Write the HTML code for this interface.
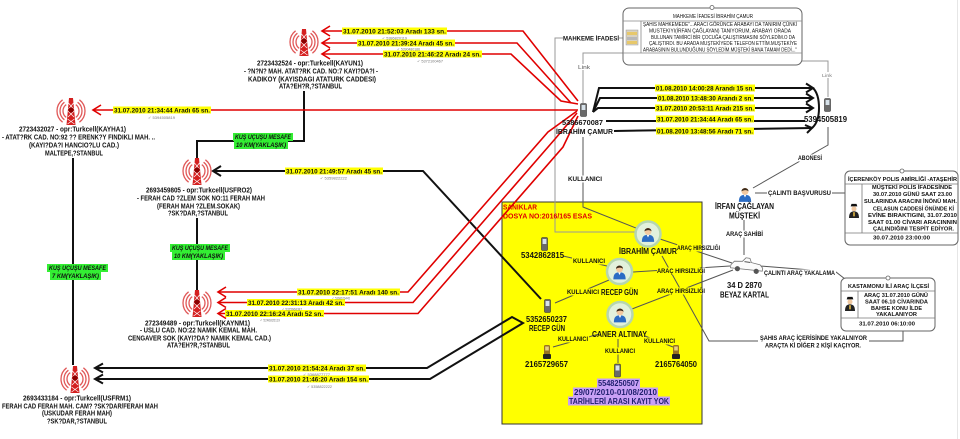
<!DOCTYPE html>
<html><head><meta charset="utf-8">
<style>
html,body{margin:0;padding:0;background:#fff;}
svg{display:block;}
text{font-family:"Liberation Sans","DejaVu Sans",sans-serif;font-weight:bold;fill:#111;}
.n{font-weight:normal;}
.sm{font-weight:normal;fill:#777;font-size:3.6px;}
.g{font-style:italic;font-size:6px;}
.lb{font-size:6px;}
.tw{font-size:7px;}
.dl{font-size:6.8px;}
</style></head><body>
<svg width="960" height="439" viewBox="0 0 960 439" xmlns="http://www.w3.org/2000/svg">
<defs>
<symbol id="tw" viewBox="0 0 32 29">
 <g fill="none" stroke="#e05858" stroke-width="1.3">
  <path d="M11.2,7.6 A8,8 0 0 0 11.2,20.4"/>
  <path d="M9.4,5.2 A11,11 0 0 0 9.4,22.8"/>
  <path d="M7.6,2.8 A14,14 0 0 0 7.6,25.2"/>
  <path d="M20.8,7.6 A8,8 0 0 1 20.8,20.4"/>
  <path d="M22.6,5.2 A11,11 0 0 1 22.6,22.8"/>
  <path d="M24.4,2.8 A14,14 0 0 1 24.4,25.2"/>
 </g>
 <path d="M14,1 L18,1 L20.5,28 L11.5,28 Z" fill="#d42020"/>
 <path d="M13.5,6 L18.5,12 M18.5,6 L13.5,12 M13,14 L19,20 M19,14 L13,20 M12.5,22 L19.5,27 M19.5,22 L12.5,27" stroke="#fff" stroke-width="0.7"/>
 <circle cx="16" cy="13" r="2.6" fill="#8a0000"/>
</symbol>
<symbol id="ps" viewBox="0 0 16 18">
 <path d="M1,18 C1,11 4,10 8,10 C12,10 15,11 15,18 Z" fill="#2b6cc4"/>
 <path d="M6.5,10 L8,13 L9.5,10Z" fill="#fff"/>
 <circle cx="8" cy="6" r="4" fill="#f3c9a0"/>
 <path d="M4,6 C4,1 12,1 12,6 C11,4 6,4 4,6Z" fill="#3b2a1a"/>
</symbol>
<symbol id="pol" viewBox="0 0 12 18">
 <path d="M2,4 L10,4 L9,1 L3,1Z" fill="#111"/>
 <circle cx="6" cy="7" r="3" fill="#f0c8a0"/>
 <path d="M0,18 C0,11 3,10 6,10 C9,10 12,11 12,18Z" fill="#222"/>
 <rect x="5" y="11" width="2" height="5" fill="#d8b040"/>
</symbol>
<symbol id="ph" viewBox="0 0 7 14">
 <rect x="0.5" y="0.5" width="6" height="13" rx="1.2" fill="#6a6a6a" stroke="#333" stroke-width="0.6"/>
 <rect x="1.6" y="2" width="3.8" height="5" fill="#d7e2ea"/>
</symbol>
<symbol id="dp" viewBox="0 0 8 14">
 <rect x="1" y="0" width="6" height="10" rx="1.5" fill="#9a7420"/>
 <rect x="2.2" y="1.5" width="3.6" height="4" fill="#e8d080"/>
 <rect x="0" y="9" width="8" height="5" rx="1" fill="#222"/>
</symbol>
<symbol id="car" viewBox="0 0 34 17">
 <path d="M1,11 L4,7 L12,6 L15,2 L19,2 L21,6 L30,7 L33,10 L33,13 L1,14 Z" fill="#fbfbfb" stroke="#777" stroke-width="0.8"/>
 <path d="M14,6 L20,6" stroke="#555" stroke-width="1"/>
 <circle cx="8" cy="14" r="2.6" fill="#555"/>
 <circle cx="27" cy="14" r="2.6" fill="#555"/>
</symbol>
</defs>

<rect x="0" y="0" width="960" height="439" fill="#fff"/>
<line x1="957.5" y1="0" x2="957.5" y2="439" stroke="#e6e6e6" stroke-width="1"/>

<!-- yellow box -->
<rect x="502" y="202" width="200" height="222" fill="#ffff00" stroke="#333" stroke-width="1"/>

<!-- gray / dark connectors -->
<g fill="none" stroke="#999" stroke-width="1">
 <path d="M623,38 H619 M563,38 H555 V232 H636"/>
 <path d="M623,53 H583 V103"/>
 <path d="M802,61 H828 V97"/>
</g>
<g fill="none" stroke="#555" stroke-width="1">
 <path d="M828,127 V145 L753,188"/>
 <path d="M755,193 H845"/>
 <path d="M744,220 V255"/>
 <path d="M760,266 L836,272 L845,279"/>
 <path d="M662,256 L709,341 H903 V331"/>
 <path d="M583,137 V207 L636,228"/>
 <path d="M563,256 L607,266"/>
 <path d="M609,280 L555,303"/>
 <path d="M599,334 L553,347"/>
 <path d="M645,336 L673,347"/>
 <path d="M618,339 V363"/>
 <path d="M660,239 L732,263"/>
 <path d="M633,272 L730,266"/>
 <path d="M632,309 L733,270"/>
</g>

<!-- black vertical connectors between towers -->
<g fill="none" stroke="#111" stroke-width="2">
 <path d="M304,91 V141 H197 V158"/>
 <path d="M197,218 V290"/>
 <path d="M73,158 V365"/>
</g>

<!-- yellow box title -->
<text x="503" y="209.5" font-size="7.5" textLength="34" lengthAdjust="spacingAndGlyphs" style="fill:#e00000">SANIKLAR</text>
<text x="503" y="218.5" font-size="7.5" textLength="89" lengthAdjust="spacingAndGlyphs" style="fill:#e00000">DOSYA NO:2016/165 ESAS</text>

<!-- black connectors -->
<g fill="none" stroke="#111" stroke-width="2">
 <path d="M213,171 H423 L541,299"/>
 <path d="M221,166 L213,171 L221,176"/>
 <path d="M95,368 H427 L512,317 L523,323 L430,379 H95"/>
 <path d="M103,363.5 L95,368 L103,372.5"/>
 <path d="M103,374.5 L95,379 L103,383.5"/>
 <path d="M593,112 L599,88 H813"/>
 <path d="M593,112 L600,98 H813"/>
 <path d="M593,112 L598,108 H813"/>
 <path d="M606,121 H805"/>
 <path d="M614,131 L812,128"/>
 <path d="M813,88 Q819,94 819,108 Q819,122 812,128"/>
 <path d="M806,83.5 L813,88 L806,92.5"/>
 <path d="M806,93.5 L813,98 L806,102.5"/>
 <path d="M806,103.5 L813,108 L806,112.5"/>
 <path d="M805,125 L812,128 L807,133"/>
</g>

<!-- red connectors -->
<g fill="none" stroke="#e00000" stroke-width="1.6">
 <path d="M322,31 H523 L578,101"/>
 <path d="M322,43 H517 L571,103"/>
 <path d="M322,54 H511 L561,101 L578,104"/>
 <path d="M330,26 L322,31 L330,36"/>
 <path d="M330,38 L322,43 L330,48"/>
 <path d="M330,49 L322,54 L330,59"/>
 <path d="M93,110 H578"/>
 <path d="M101,105 L93,110 L101,115"/>
 <path d="M218,292 H408 L548,132 L577,111"/>
 <path d="M218,302.5 H413 L555,139 L577,113"/>
 <path d="M218,313.5 H418 L563,147 L578,116"/>
 <path d="M226,287 L218,292 L226,297"/>
 <path d="M226,297.5 L218,302.5 L226,307.5"/>
 <path d="M226,308.5 L218,313.5 L226,318.5"/>
</g>

<!-- towers -->
<use href="#tw" x="288" y="28" width="32" height="29"/>
<use href="#tw" x="55" y="97" width="32" height="29"/>
<use href="#tw" x="181" y="157" width="32" height="29"/>
<use href="#tw" x="181" y="289" width="32" height="29"/>
<use href="#tw" x="59" y="365" width="32" height="29"/>

<!-- tower texts -->
<g class="tw">
<text x="257" y="65.5" textLength="106" lengthAdjust="spacingAndGlyphs">2723432524 - opr:Turkcell(KAYUN1)</text>
<text x="244" y="73.5" textLength="134" lengthAdjust="spacingAndGlyphs">- ?N?N? MAH.   ATAT?RK CAD. NO:7 KAYI?DA?I -</text>
<text x="248" y="81.5" textLength="128" lengthAdjust="spacingAndGlyphs">KADIKOY (KAYISDAGI ATATURK CADDESI)</text>
<text x="279" y="88.5" textLength="63" lengthAdjust="spacingAndGlyphs">ATA?EH?R,?STANBUL</text>

<text x="19" y="131.5" textLength="107" lengthAdjust="spacingAndGlyphs">2723432027 - opr:Turkcell(KAYHA1)</text>
<text x="2" y="139.5" textLength="153" lengthAdjust="spacingAndGlyphs">- ATAT?RK CAD. NO:92 ?? ERENK?Y FINDIKLI MAH. ..</text>
<text x="29" y="147.5" textLength="90" lengthAdjust="spacingAndGlyphs">(KAYI?DA?I HANCIO?LU CAD.)</text>
<text x="45" y="155.5" textLength="58" lengthAdjust="spacingAndGlyphs">MALTEPE,?STANBUL</text>

<text x="146" y="192.5" textLength="106" lengthAdjust="spacingAndGlyphs">2693459805 - opr:Turkcell(USFRO2)</text>
<text x="137" y="200.5" textLength="128" lengthAdjust="spacingAndGlyphs">- FERAH CAD ?ZLEM SOK NO:11 FERAH MAH</text>
<text x="157" y="208.5" textLength="83" lengthAdjust="spacingAndGlyphs">(FERAH MAH ?ZLEM.SOKAK)</text>
<text x="168" y="215.5" textLength="60" lengthAdjust="spacingAndGlyphs">?SK?DAR,?STANBUL</text>

<text x="145" y="325.5" textLength="105" lengthAdjust="spacingAndGlyphs">272349489 - opr:Turkcell(KAYNM1)</text>
<text x="140" y="332.5" textLength="117" lengthAdjust="spacingAndGlyphs">- USLU CAD. NO:22 NAMIK KEMAL MAH.</text>
<text x="128" y="340.5" textLength="143" lengthAdjust="spacingAndGlyphs">CENGAVER SOK (KAYI?DA? NAMIK KEMAL CAD.)</text>
<text x="167" y="347.5" textLength="63" lengthAdjust="spacingAndGlyphs">ATA?EH?R,?STANBUL</text>

<text x="23" y="400.5" textLength="108" lengthAdjust="spacingAndGlyphs">2693433184 - opr:Turkcell(USFRM1)</text>
<text x="2" y="408.5" textLength="156" lengthAdjust="spacingAndGlyphs">FERAH CAD FERAH MAH. CAM? ?SK?DAR/FERAH MAH</text>
<text x="42" y="415.5" textLength="70" lengthAdjust="spacingAndGlyphs">(USKUDAR FERAH MAH)</text>
<text x="47" y="423.5" textLength="60" lengthAdjust="spacingAndGlyphs">?SK?DAR,?STANBUL</text>
</g>

<!-- green distance labels -->
<g fill="#33ee33">
 <rect x="233" y="133" width="60" height="8"/><rect x="234" y="141" width="54" height="8"/>
 <rect x="170" y="244" width="60" height="8"/><rect x="172" y="252" width="53" height="8"/>
 <rect x="47" y="264" width="61" height="8"/><rect x="50" y="272" width="51" height="8"/>
</g>
<g class="g">
<text x="235" y="139.2" textLength="56" lengthAdjust="spacingAndGlyphs">KUŞ UÇUŞU MESAFE</text>
<text x="236" y="147.2" textLength="50" lengthAdjust="spacingAndGlyphs">10 KM(YAKLAŞIK)</text>
<text x="172" y="250.2" textLength="56" lengthAdjust="spacingAndGlyphs">KUŞ UÇUŞU MESAFE</text>
<text x="174" y="258.2" textLength="49" lengthAdjust="spacingAndGlyphs">10 KM(YAKLAŞIK)</text>
<text x="49" y="270.2" textLength="57" lengthAdjust="spacingAndGlyphs">KUŞ UÇUŞU MESAFE</text>
<text x="52" y="278.2" textLength="47" lengthAdjust="spacingAndGlyphs">7 KM(YAKLAŞIK)</text>
</g>

<!-- yellow date labels -->
<g fill="#ffff00">
 <rect x="342" y="27.5" width="105" height="7"/>
 <rect x="357" y="39.5" width="98" height="7"/>
 <rect x="383" y="50.5" width="99" height="7"/>
 <rect x="113" y="106.5" width="98" height="7"/>
 <rect x="285" y="167.5" width="98" height="7"/>
 <rect x="297" y="288.5" width="103" height="7"/>
 <rect x="247" y="299" width="98" height="7"/>
 <rect x="225" y="310" width="99" height="7"/>
 <rect x="268" y="364.5" width="98" height="7"/>
 <rect x="268" y="375.5" width="101" height="7"/>
 <rect x="655" y="84.5" width="100" height="7"/>
 <rect x="657" y="94.5" width="97" height="7"/>
 <rect x="655" y="104.5" width="100" height="7"/>
 <rect x="656" y="115.5" width="98" height="7"/>
 <rect x="656" y="127.5" width="98" height="7"/>
</g>
<g class="dl">
<text x="343" y="33.4" textLength="103" lengthAdjust="spacingAndGlyphs">31.07.2010 21:52:03 Aradı 133 sn.</text>
<text x="358" y="45.4" textLength="96" lengthAdjust="spacingAndGlyphs">31.07.2010 21:39:24 Aradı 45 sn.</text>
<text x="384" y="56.4" textLength="97" lengthAdjust="spacingAndGlyphs">31.07.2010 21:46:22 Aradı 24 sn.</text>
<text x="114" y="112.4" textLength="96" lengthAdjust="spacingAndGlyphs">31.07.2010 21:34:44 Aradı 65 sn.</text>
<text x="286" y="173.4" textLength="96" lengthAdjust="spacingAndGlyphs">31.07.2010 21:49:57 Aradı 45 sn.</text>
<text x="298" y="294.4" textLength="101" lengthAdjust="spacingAndGlyphs">31.07.2010 22:17:51 Aradı 140 sn.</text>
<text x="248" y="304.9" textLength="96" lengthAdjust="spacingAndGlyphs">31.07.2010 22:31:13 Aradı 42 sn.</text>
<text x="226" y="315.9" textLength="97" lengthAdjust="spacingAndGlyphs">31.07.2010 22:16:24 Aradı 52 sn.</text>
<text x="269" y="370.4" textLength="96" lengthAdjust="spacingAndGlyphs">31.07.2010 21:54:24 Aradı 37 sn.</text>
<text x="269" y="381.4" textLength="99" lengthAdjust="spacingAndGlyphs">31.07.2010 21:46:20 Aradı 154 sn.</text>
<text x="656" y="90.4" textLength="98" lengthAdjust="spacingAndGlyphs">01.08.2010 14:00:28 Arandı 15 sn.</text>
<text x="658" y="100.4" textLength="95" lengthAdjust="spacingAndGlyphs">01.08.2010 13:48:30 Arandı 2 sn.</text>
<text x="656" y="110.4" textLength="98" lengthAdjust="spacingAndGlyphs">31.07.2010 20:53:11 Aradı 215 sn.</text>
<text x="657" y="121.4" textLength="96" lengthAdjust="spacingAndGlyphs">31.07.2010 21:34:44 Aradı 65 sn.</text>
<text x="657" y="133.4" textLength="96" lengthAdjust="spacingAndGlyphs">01.08.2010 13:48:56 Aradı 71 sn.</text>
</g>

<!-- small check texts -->
<g>
<text class="sm" x="382" y="39.5" textLength="25" lengthAdjust="spacingAndGlyphs">✓ 5386820119</text>
<text class="sm" x="397" y="50.5" textLength="23" lengthAdjust="spacingAndGlyphs">✓ 5390480186</text>
<text class="sm" x="417" y="62.5" textLength="26" lengthAdjust="spacingAndGlyphs">✓ 5372100467</text>
<text class="sm" x="148" y="119" textLength="27" lengthAdjust="spacingAndGlyphs">✓ 5394505819</text>
<text class="sm" x="320" y="179.5" textLength="27" lengthAdjust="spacingAndGlyphs">✓ 5359822222</text>
<text class="sm" x="332" y="299.5" textLength="18" lengthAdjust="spacingAndGlyphs">✓ 5368676445</text>
<text class="sm" x="282" y="310.5" textLength="20" lengthAdjust="spacingAndGlyphs">✓ 5325668387</text>
<text class="sm" x="260" y="321.5" textLength="20" lengthAdjust="spacingAndGlyphs">✓ 5246835119</text>
<text class="sm" x="303" y="376" textLength="27" lengthAdjust="spacingAndGlyphs">✓ 5368877777</text>
<text class="sm" x="307" y="388" textLength="25" lengthAdjust="spacingAndGlyphs">✓ 5358822222</text>
</g>

<!-- top court statement box -->
<rect x="623" y="8" width="179" height="57" rx="6" fill="#fff" stroke="#666" stroke-width="1"/>
<line x1="623" y1="21" x2="802" y2="21" stroke="#888" stroke-width="0.8"/>
<line x1="623" y1="53" x2="802" y2="53" stroke="#888" stroke-width="0.8"/>
<line x1="641" y1="21" x2="641" y2="53" stroke="#888" stroke-width="0.8"/>
<circle cx="712" cy="7.5" r="2" fill="#fff" stroke="#666" stroke-width="0.8"/>
<g>
 <rect x="626" y="30" width="12" height="15" fill="#d9d2c0" stroke="#999" stroke-width="0.5"/>
 <rect x="627" y="32" width="10" height="3" fill="#e7c86a"/>
 <rect x="627" y="37" width="10" height="3" fill="#b8b8b8"/>
 <rect x="627" y="41" width="10" height="3" fill="#e7c86a"/>
</g>
<g class="n" style="font-size:5px">
<text class="n" x="673" y="17.8" textLength="80" lengthAdjust="spacingAndGlyphs">MAHKEME İFADESİ İBRAHİM ÇAMUR</text>
<text class="n" x="643" y="26.2" textLength="154" lengthAdjust="spacingAndGlyphs">ŞAHIS MAHKEMEDE&quot;...ARACI GÖRÜNCE ARABAYI DA TANIRIM ÇÜNKİ</text>
<text class="n" x="649" y="32.5" textLength="142" lengthAdjust="spacingAndGlyphs">MUSTEKIYI(İRFAN ÇAĞLAYAN) TANIYORUM, ARABAYI ORADA</text>
<text class="n" x="651" y="38.8" textLength="144" lengthAdjust="spacingAndGlyphs">BULUNAN TAMİRCİ BİR ÇOCUĞA ÇALIŞTIRMASINI SÖYLEDİM.O DA</text>
<text class="n" x="649" y="45.1" textLength="148" lengthAdjust="spacingAndGlyphs">ÇALIŞTIRDI. BU ARADA MUŞTEKİYEDE TELEFON ETTİM.MUŞTEKİYE</text>
<text class="n" x="643" y="51.4" textLength="154" lengthAdjust="spacingAndGlyphs">ARABASININ BULUNDUĞUNU SÖYLEDİM.MÜŞTEKİ BANA TAMAM DEDİ...&quot;</text>
</g>

<text x="563" y="40.5" font-size="6.8" textLength="56" lengthAdjust="spacingAndGlyphs">MAHKEME İFADESİ</text>
<rect x="577" y="64" width="13" height="6" fill="#fff"/>
<text class="n" x="578" y="69" font-size="5" textLength="12" lengthAdjust="spacingAndGlyphs" style="fill:#555">Link</text>
<rect x="821" y="72" width="12" height="6" fill="#fff"/>
<text class="n" x="822" y="77" font-size="4.5" textLength="10" lengthAdjust="spacingAndGlyphs" style="fill:#777">Link</text>

<!-- Ibrahim phone (top) -->
<use href="#ph" x="580" y="103" width="7" height="14"/>
<text x="562" y="125" font-size="7.5" textLength="41" lengthAdjust="spacingAndGlyphs">5386670087</text>
<text x="556" y="134" font-size="7.5" textLength="57" lengthAdjust="spacingAndGlyphs">İBRAHİM ÇAMUR</text>

<!-- 5394505819 -->
<use href="#ph" x="824" y="98" width="7" height="14"/>
<text x="804" y="122" font-size="8" textLength="43" lengthAdjust="spacingAndGlyphs">5394505819</text>

<!-- white-bg labels -->
<g fill="#fff">
 <rect x="567" y="175.5" width="36" height="7"/>
 <rect x="797" y="154.5" width="26" height="7"/>
 <rect x="767" y="189.5" width="65" height="7"/>
 <rect x="725" y="230.5" width="39" height="7"/>
 <rect x="763" y="269.5" width="73" height="7"/>
 <rect x="758" y="334" width="111" height="15"/>
</g>
<g class="lb">
<text x="568" y="181.2" textLength="34" lengthAdjust="spacingAndGlyphs">KULLANICI</text>
<text x="798" y="160.2" textLength="24" lengthAdjust="spacingAndGlyphs">ABONESİ</text>
<text x="768" y="195.2" textLength="63" lengthAdjust="spacingAndGlyphs">ÇALINTI BAŞVURUSU</text>
<text x="726" y="236.2" textLength="37" lengthAdjust="spacingAndGlyphs">ARAÇ SAHİBİ</text>
<text x="764" y="275.2" textLength="71" lengthAdjust="spacingAndGlyphs">ÇALINTI ARAÇ YAKALAMA</text>
<text x="760" y="340.2" textLength="107" lengthAdjust="spacingAndGlyphs">ŞAHIS ARAÇ İÇERİSİNDE YAKALNIYOR</text>
<text x="765" y="347.7" textLength="96" lengthAdjust="spacingAndGlyphs">ARAÇTA Kİ DİĞER 2 KİŞİ KAÇIYOR.</text>
</g>

<!-- Irfan -->
<use href="#ps" x="738" y="186" width="14" height="16"/>
<text x="715" y="209" font-size="8" textLength="59" lengthAdjust="spacingAndGlyphs">İRFAN ÇAĞLAYAN</text>
<text x="729" y="218.5" font-size="8" textLength="31" lengthAdjust="spacingAndGlyphs">MÜŞTEKİ</text>

<!-- car -->
<g transform="rotate(8 747 265)"><use href="#car" x="730" y="256" width="34" height="17"/></g>
<text x="727" y="288" font-size="8" textLength="35" lengthAdjust="spacingAndGlyphs">34 D 2870</text>
<text x="720" y="297.5" font-size="8" textLength="49" lengthAdjust="spacingAndGlyphs">BEYAZ KARTAL</text>

<!-- İçerenköy box -->
<rect x="845" y="171" width="113" height="74" rx="5" fill="#fff" stroke="#666" stroke-width="1"/>
<line x1="845" y1="184" x2="958" y2="184" stroke="#777" stroke-width="0.8"/>
<line x1="845" y1="233" x2="958" y2="233" stroke="#777" stroke-width="0.8"/>
<line x1="862" y1="184" x2="862" y2="233" stroke="#777" stroke-width="0.8"/>
<circle cx="902" cy="171" r="2" fill="#fff" stroke="#666" stroke-width="0.8"/>
<use href="#pol" x="849" y="203" width="10" height="15"/>
<g style="font-size:5.5px">
<text x="848" y="181" textLength="109" lengthAdjust="spacingAndGlyphs">İÇERENKÖY POLIS AMİRLİĞİ -ATAŞEHİR</text>
<text x="872" y="189.2" textLength="80" lengthAdjust="spacingAndGlyphs">MÜŞTEKİ POLİS İFADESİNDE</text>
<text x="873" y="196.2" textLength="79" lengthAdjust="spacingAndGlyphs">30.07.2010 GÜNÜ SAAT 23.00</text>
<text x="864" y="203" textLength="93" lengthAdjust="spacingAndGlyphs">SULARINDA ARACINI İNÖNÜ MAH.</text>
<text x="873" y="210.6" textLength="81" lengthAdjust="spacingAndGlyphs">CELASUN CADDESİ ÖNÜNDE Kİ</text>
<text x="868" y="217.2" textLength="89" lengthAdjust="spacingAndGlyphs">EVİNE BIRAKTIGINI, 31.07.2010</text>
<text x="868" y="224.2" textLength="89" lengthAdjust="spacingAndGlyphs">SAAT 01.00 CİVARI ARACINNIN</text>
<text x="873" y="230.4" textLength="81" lengthAdjust="spacingAndGlyphs">ÇALINDIĞINI TESPİT EDİYOR.</text>
<text x="873" y="239.3" textLength="57" lengthAdjust="spacingAndGlyphs">30.07.2010 23:00:00</text>
</g>

<!-- Kastamonu box -->
<rect x="841" y="278" width="94" height="53" rx="5" fill="#fff" stroke="#666" stroke-width="1"/>
<line x1="841" y1="291" x2="935" y2="291" stroke="#777" stroke-width="0.8"/>
<line x1="841" y1="318" x2="935" y2="318" stroke="#777" stroke-width="0.8"/>
<line x1="858" y1="291" x2="858" y2="318" stroke="#777" stroke-width="0.8"/>
<circle cx="888" cy="278" r="2" fill="#fff" stroke="#666" stroke-width="0.8"/>
<use href="#pol" x="845" y="296" width="10" height="15"/>
<g style="font-size:5.5px">
<text x="848" y="288" textLength="81" lengthAdjust="spacingAndGlyphs">KASTAMONU İLİ ARAÇ İLÇESİ</text>
<text x="864" y="297" textLength="64" lengthAdjust="spacingAndGlyphs">ARAÇ 31.07.2010 GÜNÜ</text>
<text x="865" y="303.3" textLength="63" lengthAdjust="spacingAndGlyphs">SAAT 06.10 CİVARINDA</text>
<text x="871" y="309.8" textLength="51" lengthAdjust="spacingAndGlyphs">BAHSE KONU İLDE</text>
<text x="876" y="316" textLength="41" lengthAdjust="spacingAndGlyphs">YAKALANIYOR</text>
<text x="859" y="325.5" textLength="56" lengthAdjust="spacingAndGlyphs">31.07.2010 06:10:00</text>
</g>

<!-- yellow box: label backgrounds -->
<g fill="#ffff00">
 <rect x="572" y="257.5" width="34" height="7"/>
 <rect x="566" y="288.5" width="34" height="7"/>
 <rect x="557" y="335.5" width="32" height="7"/>
 <rect x="643" y="337.5" width="33" height="7"/>
 <rect x="604" y="347.5" width="32" height="7"/>
 <rect x="677" y="244.5" width="25" height="7"/>
 <rect x="657" y="267.5" width="45" height="7"/>
 <rect x="657" y="287.5" width="45" height="7"/>
</g>
<g fill="#fff">
 <rect x="702.5" y="244.5" width="18" height="7"/>
 <rect x="702.5" y="267.5" width="3" height="7"/>
 <rect x="702.5" y="287.5" width="3" height="7"/>
</g>
<g class="lb">
<text x="573" y="263.2" textLength="32" lengthAdjust="spacingAndGlyphs">KULLANICI</text>
<text x="567" y="294.2" textLength="32" lengthAdjust="spacingAndGlyphs">KULLANICI</text>
<text x="558" y="341.2" textLength="30" lengthAdjust="spacingAndGlyphs">KULLANICI</text>
<text x="644" y="343.2" textLength="31" lengthAdjust="spacingAndGlyphs">KULLANICI</text>
<text x="605" y="353.2" textLength="30" lengthAdjust="spacingAndGlyphs">KULLANICI</text>
<text x="677" y="250.2" textLength="43" lengthAdjust="spacingAndGlyphs">ARAÇ HIRSIZLIĞI</text>
<text x="657" y="273.2" textLength="48" lengthAdjust="spacingAndGlyphs">ARAÇ HIRSIZLIĞI</text>
<text x="657" y="293.2" textLength="48" lengthAdjust="spacingAndGlyphs">ARAÇ HIRSIZLIĞI</text>
</g>

<!-- avatars -->
<g>
 <circle cx="648" cy="234" r="12.5" fill="#e2f1dc" stroke="#b6d6ae" stroke-width="2.5"/>
 <use href="#ps" x="641" y="226" width="14" height="16"/>
 <circle cx="619.5" cy="271.5" r="12.5" fill="#e2f1dc" stroke="#b6d6ae" stroke-width="2.5"/>
 <use href="#ps" x="612.5" y="263.5" width="14" height="16"/>
 <circle cx="620" cy="314.5" r="12.5" fill="#e2f1dc" stroke="#b6d6ae" stroke-width="2.5"/>
 <use href="#ps" x="613" y="306.5" width="14" height="16"/>
</g>
<text x="619" y="254" font-size="8" textLength="58" lengthAdjust="spacingAndGlyphs">İBRAHİM ÇAMUR</text>
<text x="601" y="295" font-size="8" textLength="37" lengthAdjust="spacingAndGlyphs">RECEP GÜN</text>
<text x="592" y="337" font-size="8" textLength="55" lengthAdjust="spacingAndGlyphs">CANER ALTINAY</text>

<!-- phones in yellow box -->
<use href="#ph" x="541" y="237" width="7" height="14"/>
<text x="521" y="258" font-size="8" textLength="43" lengthAdjust="spacingAndGlyphs">5342862815</text>
<use href="#ph" x="544" y="299" width="7" height="14"/>
<text x="526" y="322" font-size="8" textLength="41" lengthAdjust="spacingAndGlyphs">5352650237</text>
<text x="529" y="331" font-size="8" textLength="36" lengthAdjust="spacingAndGlyphs">RECEP GÜN</text>
<use href="#dp" x="543" y="345" width="8" height="14"/>
<text x="525" y="367" font-size="8" textLength="43" lengthAdjust="spacingAndGlyphs">2165729657</text>
<use href="#dp" x="672" y="345" width="8" height="14"/>
<text x="655" y="367" font-size="8" textLength="42" lengthAdjust="spacingAndGlyphs">2165764050</text>
<use href="#ph" x="614" y="363" width="7" height="15"/>

<!-- purple label -->
<g fill="#c8a0f5">
 <rect x="597" y="378.5" width="43" height="9"/>
 <rect x="573" y="387.5" width="85" height="9"/>
 <rect x="568" y="396.5" width="102" height="9"/>
</g>
<g style="font-size:7.8px">
<text x="598" y="386" textLength="41" lengthAdjust="spacingAndGlyphs" style="fill:#1f1f6e">5548250507</text>
<text x="574" y="395" textLength="83" lengthAdjust="spacingAndGlyphs" style="fill:#1f1f6e">29/07/2010-01/08/2010</text>
<text x="569" y="404" textLength="100" lengthAdjust="spacingAndGlyphs" style="fill:#1f1f6e">TARİHLERİ ARASI KAYIT YOK</text>
</g>

</svg>
</body></html>
